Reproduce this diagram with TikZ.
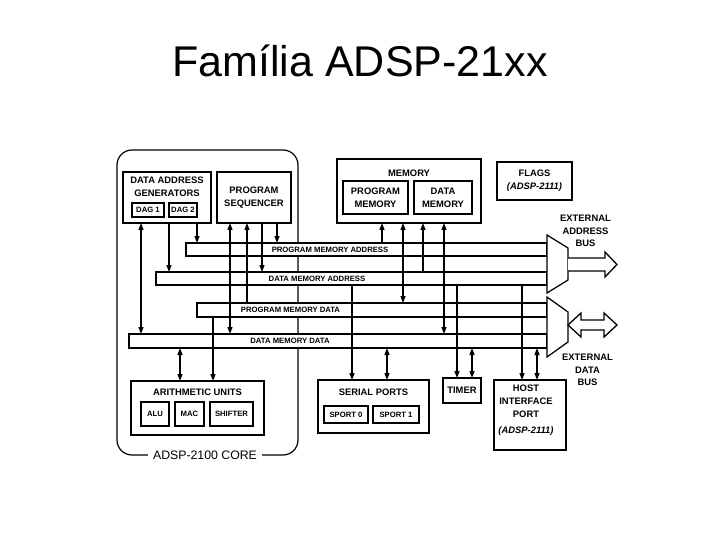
\documentclass[tikz,border=0pt]{standalone}
\usepackage{fontspec}
\setmainfont{Liberation Sans}
\usetikzlibrary{arrows.meta}
\newcommand\vcon[4]{\draw[#1] (#2,0|-#3) -- (#2,0|-#4);}
\begin{document}
\begin{tikzpicture}[x=1pt,y=-1pt,line width=1.25pt,
  every node/.style={inner sep=0pt,outer sep=0pt},
  box/.style={draw,fill=white,line width=1.25pt},
  bus/.style={draw,fill=white,line width=1.1pt},
  ttl/.style={font=\bfseries\fontsize{9.4}{13}\selectfont,align=center},
  sml/.style={font=\bfseries\fontsize{7.7}{9}\selectfont,align=center},
  arr/.style={-{Triangle[length=7pt,width=5pt]}},
  darr/.style={{Triangle[length=7pt,width=5pt]}-{Triangle[length=7pt,width=5pt]}},
]
\useasboundingbox (0,0) rectangle (720,540);
\fill[white] (0,0) rectangle (720,540);

% title
\node[font=\fontsize{43}{48}\selectfont,anchor=base] (title) at (360,77) {Família ADSP-21xx};

% core frame
\draw[line width=1.2pt,rounded corners=15pt] (117,150) rectangle (298,455);
\node[fill=white,inner xsep=5pt,inner ysep=2pt,font=\fontsize{12.3}{14}\selectfont] (core) at (205,455) {ADSP-2100 CORE};

% buses
\node[bus,minimum width=361pt,minimum height=13pt] (pma) at (366.5,249.5) {};
\node[bus,minimum width=391pt,minimum height=13pt] (dma) at (351.5,278.5) {};
\node[bus,minimum width=350pt,minimum height=14pt] (pmd) at (372,310) {};
\node[bus,minimum width=418pt,minimum height=14pt] (dmd) at (338,341) {};
\node[sml] (pmal) at (330,249.5) {PROGRAM MEMORY ADDRESS};
\node[sml] (dmal) at (317,278.5) {DATA MEMORY ADDRESS};
\node[sml] (pmdl) at (290.5,310) {PROGRAM MEMORY DATA};
\node[sml] (dmdl) at (290,341) {DATA MEMORY DATA};

% multiplexers
\draw[box] (547,235) -- (568,248) -- (568,280) -- (547,293) -- cycle;
\draw[box] (547,297) -- (568,312) -- (568,342) -- (547,357) -- cycle;

% external buses
\draw[line width=1.3pt,fill=white] (568,258) -- (605,258) -- (605,252) -- (617,264.5) -- (605,277) -- (605,271) -- (568,271);
\draw[line width=1.3pt,fill=white] (568,325) -- (581,313) -- (581,320) -- (604,320) -- (604,313) -- (617,325) -- (604,337) -- (604,330) -- (581,330) -- (581,337) -- cycle;
\node[ttl,font=\bfseries\fontsize{9.4}{12.5}\selectfont] (extab) at (585.5,231) {EXTERNAL\\ADDRESS\\BUS};
\node[ttl,font=\bfseries\fontsize{9.4}{12.5}\selectfont] (extdb) at (587.5,370) {EXTERNAL\\DATA\\BUS};

% top blocks
\node[box,minimum width=88pt,minimum height=51pt] (dag) at (167,197.5) {};
\node[ttl] (dagt) at (167,186.5) {DATA ADDRESS\\GENERATORS};
\node[box,sml,minimum width=32pt,minimum height=14pt] (dag1) at (148,210) {DAG 1};
\node[box,sml,minimum width=28pt,minimum height=14pt] (dag2) at (183,210) {DAG 2};
\node[box,ttl,minimum width=74pt,minimum height=51pt] (seq) at (254,197.5) {PROGRAM\\SEQUENCER};
\node[box,minimum width=144pt,minimum height=64pt] (mem) at (409,191) {};
\node[ttl] (memt) at (409,173) {MEMORY};
\node[box,ttl,minimum width=65pt,minimum height=33pt] (pm) at (375.5,197.5) {PROGRAM\\MEMORY};
\node[box,ttl,minimum width=58pt,minimum height=33pt] (dm) at (443,197.5) {DATA\\MEMORY};
\node[box,ttl,minimum width=75pt,minimum height=38pt] (flags) at (534.5,181) {FLAGS\\\textit{(ADSP-2111)}};

% bottom blocks
\node[box,minimum width=133pt,minimum height=54pt] (arith) at (197.5,408) {};
\node[ttl] (aritht) at (197.5,392) {ARITHMETIC UNITS};
\node[box,sml,minimum width=28pt,minimum height=24pt] (alu) at (155,414) {ALU};
\node[box,sml,minimum width=29pt,minimum height=24pt] (mac) at (189.5,414) {MAC};
\node[box,sml,minimum width=43pt,minimum height=24pt] (shifter) at (231.5,414) {SHIFTER};
\node[box,minimum width=111pt,minimum height=53pt] (serial) at (373.5,406.5) {};
\node[ttl] (serialt) at (373.5,392) {SERIAL PORTS};
\node[box,sml,minimum width=44pt,minimum height=17pt] (sp0) at (346,414.5) {SPORT 0};
\node[box,sml,minimum width=46pt,minimum height=17pt] (sp1) at (396,414.5) {SPORT 1};
\node[box,ttl,minimum width=38pt,minimum height=25pt] (timer) at (462,390.5) {TIMER};
\node[box,minimum width=72pt,minimum height=70pt] (host) at (530,415) {};
\node[ttl] (hostt) at (526,410) {HOST\\INTERFACE\\PORT\\[3pt]\textit{(ADSP-2111)}};

% connectors
\vcon{darr}{141}{dag.south}{dmd.north}
\vcon{arr}{169}{dag.south}{dma.north}
\vcon{arr}{197}{dag.south}{pma.north}
\vcon{darr}{230}{seq.south}{dmd.north}
\vcon{arr}{247}{pmd.north}{seq.south}
\vcon{arr}{262}{seq.south}{dma.north}
\vcon{arr}{277}{seq.south}{pma.north}
\vcon{arr}{382}{pma.north}{mem.south}
\vcon{darr}{403}{mem.south}{pmd.north}
\vcon{arr}{423}{dma.north}{mem.south}
\vcon{darr}{444}{mem.south}{dmd.north}
\vcon{darr}{180}{dmd.south}{arith.north}
\vcon{arr}{213}{pmd.south}{arith.north}
\vcon{arr}{352}{dma.south}{serial.north}
\vcon{darr}{387}{dmd.south}{serial.north}
\vcon{arr}{457}{dma.south}{timer.north}
\vcon{darr}{472}{dmd.south}{timer.north}
\vcon{arr}{522}{dma.south}{host.north}
\vcon{darr}{537}{dmd.south}{host.north}
\end{tikzpicture}
\end{document}
